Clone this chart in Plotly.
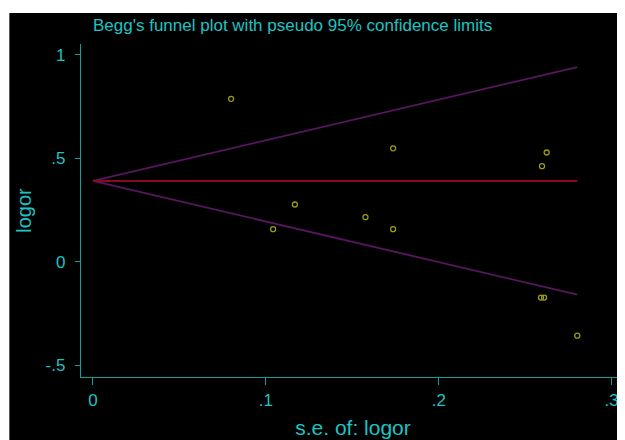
import plotly.graph_objects as go

# Study data
se_logor = [0.0799, 0.1042, 0.1168, 0.1576, 0.1736, 0.1736, 0.2624, 0.2597, 0.2591, 0.2609, 0.2801]
logor = [0.787, 0.158, 0.277, 0.216, 0.548, 0.158, 0.528, 0.462, -0.172, -0.172, -0.356]

# Pooled estimate and pseudo 95% limits (endpoints)
funnel_se = [0.0, 0.2801]
pooled = [0.391, 0.391]
upper_limit = [0.391, 0.940]
lower_limit = [0.391, -0.158]

x_ticks = [0, 0.1, 0.2, 0.3]
x_ticklabels = ["0", ".1", ".2", ".3"]
y_ticks = [-0.5, 0, 0.5, 1]
y_ticklabels = ["-.5", "0", ".5", "1"]

TEAL_TEXT = "#1cc4c4"
TEAL_LINE = "#139c9c"
FONT = "Liberation Sans, Arial, sans-serif"

fig = go.Figure()
fig.add_trace(go.Scatter(x=funnel_se, y=upper_limit, mode="lines",
                         line=dict(color="#581660", width=1.8), hoverinfo="skip"))
fig.add_trace(go.Scatter(x=funnel_se, y=lower_limit, mode="lines",
                         line=dict(color="#581660", width=1.8), hoverinfo="skip"))
fig.add_trace(go.Scatter(x=funnel_se, y=pooled, mode="lines",
                         line=dict(color="#8a0c1c", width=2), hoverinfo="skip"))
fig.add_trace(go.Scatter(x=se_logor, y=logor, mode="markers",
                         marker=dict(symbol="circle-open", size=5,
                                     line=dict(color="#9c9c12", width=1.3),
                                     color="#9c9c12")))

# The page sits 8 px in from the window's top-left corner.
W, H = 617, 432
L, R, T, B = 72.7, 0, 36, 63.3
pw, ph = W - L - R, H - T - B

def px_x(px):
    return (px - L) / pw

def px_y(py):
    return (H - B - py) / ph

fig.update_layout(
    width=W, height=H,
    margin=dict(l=L, r=R, t=T, b=B, pad=0),
    paper_bgcolor="black", plot_bgcolor="black",
    showlegend=False,
    font=dict(family=FONT, color=TEAL_TEXT),
    title=dict(text="Begg's funnel plot with pseudo 95% confidence limits",
               x=85 / W, xref="container", xanchor="left",
               y=1 - 17 / H, yref="container", yanchor="middle",
               font=dict(size=17, color=TEAL_TEXT, family=FONT)),
    xaxis=dict(range=[-0.0069, (625 - 92.7) / 1730], showgrid=False, zeroline=False,
               showline=True, linecolor=TEAL_LINE, linewidth=1.3,
               tickmode="array", tickvals=x_ticks, ticktext=x_ticklabels,
               ticks="outside", ticklen=7, tickcolor=TEAL_LINE, tickwidth=1.3,
               tickfont=dict(size=17, color=TEAL_TEXT),
               title=dict(text="s.e. of: logor", font=dict(size=21, color=TEAL_TEXT), standoff=11)),
    yaxis=dict(range=[-0.5556, 1.0517], showgrid=False, zeroline=False,
               showline=True, linecolor=TEAL_LINE, linewidth=1.3,
               tickmode="array", tickvals=y_ticks, ticktext=y_ticklabels,
               ticks="outside", ticklen=5, tickcolor=TEAL_LINE, tickwidth=1.3,
               tickfont=dict(size=17, color=TEAL_TEXT), ticklabelstandoff=6,
               title=dict(text="logor", font=dict(size=20, color=TEAL_TEXT), standoff=8)),
    shapes=[
        dict(type="rect", xref="paper", yref="paper", layer="above",
             x0=px_x(-5), x1=px_x(W + 5), y0=px_y(5), y1=px_y(-5),
             fillcolor="white", line=dict(width=0)),
        dict(type="rect", xref="paper", yref="paper", layer="above",
             x0=px_x(-5), x1=px_x(1), y0=px_y(H + 5), y1=px_y(-5),
             fillcolor="white", line=dict(width=0)),
    ],
)

fig.write_html("out.html")
